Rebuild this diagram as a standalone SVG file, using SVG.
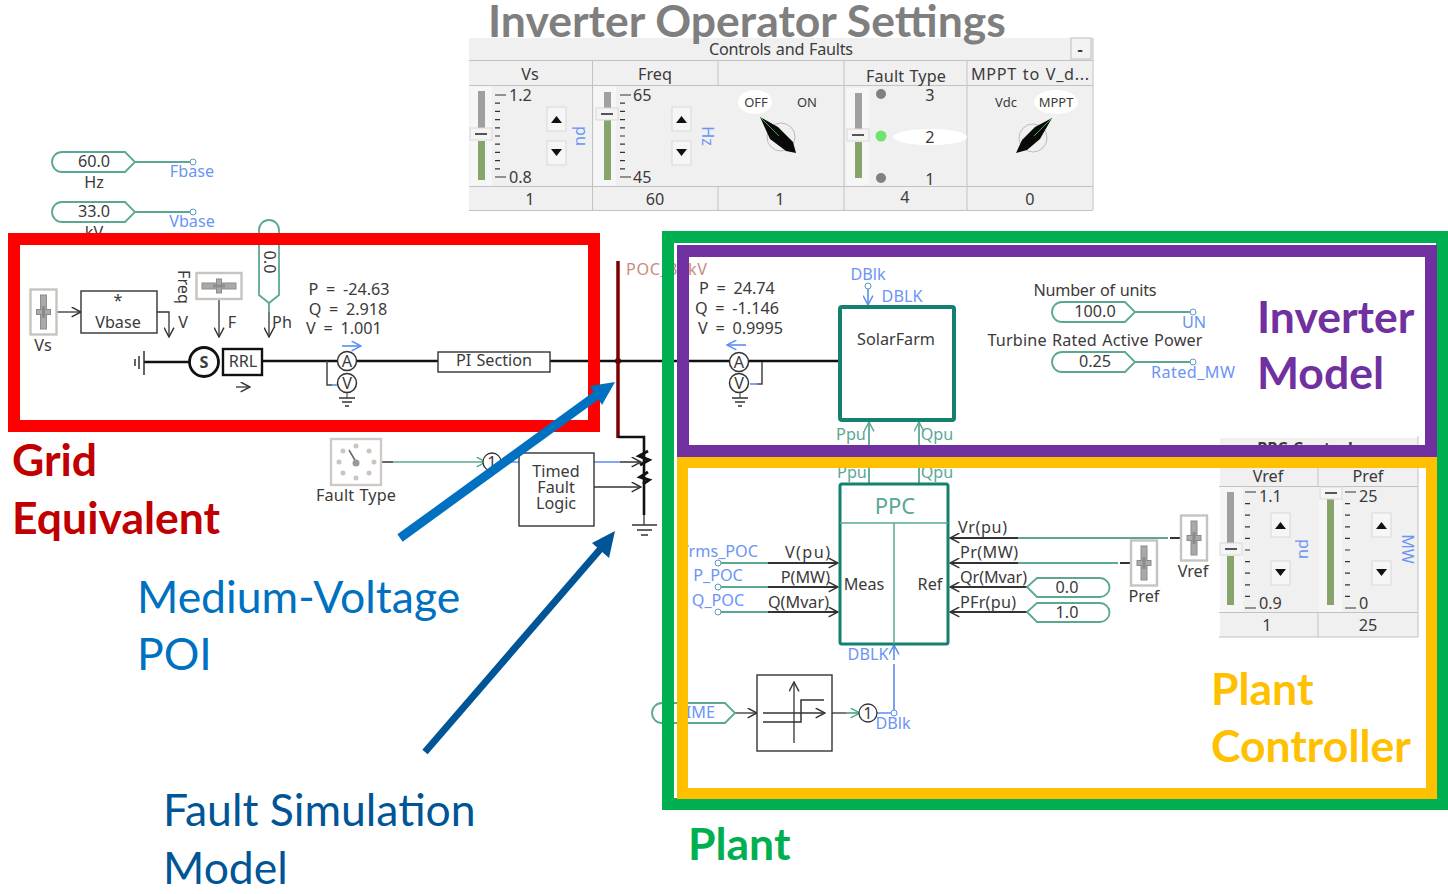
<svg xmlns="http://www.w3.org/2000/svg" xmlns:xlink="http://www.w3.org/1999/xlink" width="1448" height="894" viewBox="0 0 1448 894">
<style>
text{font-family:"Noto Sans","DejaVu Sans",sans-serif;font-size:16.200px;word-spacing:1px;fill:#3c3a3a;text-anchor:middle}
.b{fill:#6b94f5}.t{fill:#5aa893}.l{text-anchor:start}.r{text-anchor:end}
.eq{word-spacing:3.500px}
.big{font-family:Lato,"Open Sans",sans-serif;font-size:44.500px;text-anchor:start;word-spacing:0}
.bold{font-weight:700}
.w{fill:none;stroke:#111;stroke-width:2.600}
.k{fill:none;stroke:#333;stroke-width:1.300}
.g{fill:none;stroke:#5aa893;stroke-width:1.800}
.bl{fill:none;stroke:#5a8df0;stroke-width:1.600}
.pill{fill:#fff;stroke:#5aa893;stroke-width:1.800}
.mbox{fill:#fff;stroke:#333;stroke-width:1.400}
.th{fill:#fff;stroke:#158070;stroke-width:4}
.panel{fill:#f0f0f0}
.slf{fill:#fff;stroke:#c9c3bf;stroke-width:2.400}
.slb{fill:#a9a9a9;stroke:#8c8c8c}
.sm{font-size:13px}
</style>
<defs>
<marker id="ak" viewBox="0 0 10 10" refX="9.500" refY="5" markerWidth="11" markerHeight="11" markerUnits="userSpaceOnUse" orient="auto"><path d="M1 0.500L9.500 5L1 9.500" fill="none" stroke="#333" stroke-width="1.300"/></marker>
<marker id="ag" viewBox="0 0 10 10" refX="9.500" refY="5" markerWidth="11" markerHeight="11" markerUnits="userSpaceOnUse" orient="auto"><path d="M1 0.500L9.500 5L1 9.500" fill="none" stroke="#5aa893" stroke-width="1.300"/></marker>
<marker id="ab" viewBox="0 0 10 10" refX="9.500" refY="5" markerWidth="11" markerHeight="11" markerUnits="userSpaceOnUse" orient="auto"><path d="M1 0.500L9.500 5L1 9.500" fill="none" stroke="#5a8df0" stroke-width="1.300"/></marker>
<path id="ticks" d="M0 0h11m-11 8.200h5m-5 8.200h5m-5 8.200h5m-5 8.200h5m-5 8.200h5m-5 8.200h5m-5 8.200h5m-5 8.200h5m-5 8.200h5m-5 8.200h11" fill="none" stroke="#333" stroke-width="1.200"/>
<path id="ticks2" d="M0 0h11m-11 11.600h5m-5 11.600h5m-5 11.600h5m-5 11.600h5m-5 11.600h5m-5 11.600h5m-5 11.600h5m-5 11.600h5m-5 11.600h5m-5 11.600h11" fill="none" stroke="#333" stroke-width="1.200"/>
<g id="up"><rect x="0" y="0" width="19" height="24" fill="#f6f6f6" stroke="#d8d8d8"/><path d="M4 16L9.500 9L15 16Z" fill="#111"/></g>
<g id="down"><rect x="0" y="0" width="19" height="24" fill="#f6f6f6" stroke="#d8d8d8"/><path d="M4 8L9.500 15L15 8Z" fill="#111"/></g>
<g id="handle"><rect x="-11" y="-6" width="22" height="12" fill="#f4f4f4" stroke="#d8d8d8"/><path d="M-6 0h12" stroke="#555" stroke-width="2"/></g>
<g id="vs"><rect x="-13" y="-22.500" width="26" height="45" class="slf"/><rect x="-3" y="-17" width="6" height="34" class="slb"/><rect x="-7" y="-2.500" width="14" height="5" class="slb"/><rect x="-1.500" y="-6" width="3" height="12" fill="#8c8c8c"/></g>
<path id="gnd" d="M-8 0h16M-5 4h10M-2 8h4" fill="none" stroke="#333" stroke-width="1.400"/>
</defs>

<g id="control-panel">
<rect x="469" y="38" width="624" height="172" class="panel"/>
<text x="781" y="55" textLength="144">Controls and Faults</text>
<rect x="1071" y="38" width="20" height="21" fill="#f3f3f3" stroke="#bdbdbd"/><text x="1080" y="55" class="bold">-</text>
<path d="M469 60.500H1093M469 85.500H1093M469 186.500H1093M469 210.500H1093M592.500 60V210M718 60V85M718 186V210M844 60V210M967 60V210M1093 38V210" fill="none" stroke="#c2c2c2"/>
<text x="530" y="80">Vs</text><text x="655" y="80">Freq</text><text x="906" y="82" textLength="80">Fault Type</text><text x="1030" y="80" textLength="118">MPPT to V_d...</text>
<text x="530" y="205">1</text><text x="655" y="205">60</text><text x="780" y="205">1</text><text x="905" y="203">4</text><text x="1030" y="205">0</text>
<rect x="470" y="86" width="22" height="100" fill="#f6f6f6"/><rect x="478" y="91" width="7" height="40" fill="#a0a0a0"/><rect x="478" y="141" width="7" height="39" fill="#86a56b"/><use href="#handle" x="481" y="134"/>
<use href="#ticks" x="495" y="95"/><text class="l" x="509" y="101">1.2</text><text class="l" x="509" y="183">0.8</text>
<use href="#up" x="547" y="107"/><use href="#down" x="547" y="141"/><text class="b" transform="translate(576,136) rotate(90)">pu</text>
<rect x="594" y="86" width="22" height="100" fill="#f6f6f6"/><rect x="604" y="92" width="7" height="22" fill="#a0a0a0"/><rect x="604" y="120" width="7" height="60" fill="#86a56b"/><use href="#handle" x="607" y="114"/>
<use href="#ticks" x="620" y="95"/><text class="l" x="633" y="101">65</text><text class="l" x="633" y="183">45</text>
<use href="#up" x="672" y="107"/><use href="#down" x="672" y="141"/><text class="b" transform="translate(702,136) rotate(90)">Hz</text>
<ellipse cx="755" cy="102" rx="17" ry="12" fill="#fff"/><text x="756" y="107" class="sm">OFF</text><text x="807" y="107" class="sm">ON</text>
<circle cx="781" cy="137" r="14" fill="none" stroke="#bbb"/><path d="M760 117L778 127L793 142L796 153L786 151L770 139Z" fill="#0a0a0a"/><path d="M760 117L779 136" stroke="#3fae49" fill="none"/>
<rect x="846" y="88" width="23" height="97" fill="#f6f6f6"/><rect x="855" y="93" width="7" height="37" fill="#a0a0a0"/><rect x="855" y="142" width="7" height="36" fill="#86a56b"/><use href="#handle" x="858" y="135"/>
<circle cx="881" cy="94" r="5" fill="#808080"/><circle cx="881" cy="136" r="5.500" fill="#6fe36f"/><circle cx="881" cy="178" r="5" fill="#808080"/>
<ellipse cx="930" cy="137" rx="37" ry="8" fill="#fff"/><text x="930" y="101">3</text><text x="930" y="143">2</text><text x="930" y="185">1</text>
<ellipse cx="1056" cy="102" rx="22" ry="12" fill="#fff"/><text x="1006" y="107" class="sm">Vdc</text><text x="1056" y="107" class="sm">MPPT</text>
<circle cx="1033" cy="138" r="14" fill="none" stroke="#bbb"/><path d="M1052 118L1035 127L1022 140L1016 153L1027 150L1040 139Z" fill="#0a0a0a"/><path d="M1052 118L1034 136" stroke="#3fae49" fill="none"/>
</g>

<g id="ppc-panel">
<rect x="1220" y="438" width="198" height="199" class="panel"/>
<text x="1309" y="454" style="font-weight:700">PPC Controls</text>
<path d="M1418 436V637M1219 486.500H1418M1219 612.500H1418M1219 637H1418M1318 468V486M1318 612V637" fill="none" stroke="#c2c2c2"/>
<text x="1268" y="482">Vref</text><text x="1368" y="482">Pref</text><text x="1267" y="631">1</text><text x="1368" y="631">25</text>
<rect x="1220" y="487" width="23" height="125" fill="#f6f6f6"/><rect x="1227" y="492" width="7" height="51" fill="#a0a0a0"/><rect x="1227" y="556" width="7" height="49" fill="#86a56b"/><use href="#handle" x="1231" y="549"/>
<use href="#ticks2" x="1245" y="492"/><text class="l" x="1259" y="502">1.1</text><text class="l" x="1259" y="609">0.9</text>
<use href="#up" x="1271" y="513"/><use href="#down" x="1271" y="561"/><text class="b" transform="translate(1299,549) rotate(90)">pu</text>
<rect x="1319" y="487" width="23" height="125" fill="#f6f6f6"/><rect x="1327" y="499" width="7" height="106" fill="#86a56b"/><use href="#handle" x="1331" y="493"/>
<use href="#ticks2" x="1345" y="492"/><text class="l" x="1359" y="502">25</text><text class="l" x="1359" y="609">0</text>
<use href="#up" x="1372" y="513"/><use href="#down" x="1372" y="561"/><text class="b" transform="translate(1402,549) rotate(90)">MW</text>
</g>

<g id="connectors">
<path class="g" d="M135 162H193M135 212H193M269 303V312M1135 312H1193M1135 362H1193"/>
<path class="k" d="M269 312V337" marker-end="url(#ak)"/>
<path class="k" d="M57 312H81" marker-end="url(#ak)"/>
<path class="k" d="M157 312H169V337" marker-end="url(#ak)"/>
<path class="k" d="M219 299V337" marker-end="url(#ak)"/>
<path class="k" d="M236 387H250" marker-end="url(#ak)"/>
<path class="w" d="M144 362H190M262 361H338M357 361H438M550 361H839"/>
<path d="M327 361V385H332" fill="none" stroke="#444" stroke-width="1.500"/><path d="M332 385H338" class="bl"/>
<path d="M762 362V384H757" fill="none" stroke="#444" stroke-width="1.500"/><path d="M757 384H750" class="bl"/>
<path class="bl" d="M342 346H361" marker-end="url(#ab)"/>
<path class="bl" d="M746 345H727" marker-end="url(#ab)"/>
<circle cx="618" cy="361" r="3" fill="#111"/>
<path d="M618 261V438" fill="none" stroke="#7a0000" stroke-width="3.500"/>
<path class="w" d="M618 437H644V515"/><path d="M644 515V525" class="k"/>
<path class="bl" d="M505 462H620"/><path class="k" d="M381 462H393M620 462H641" marker-end="url(#ak)"/><path d="M393 462H486" class="g" style="stroke-width:1.300" marker-end="url(#ag)"/>
<path class="k" d="M594 487H641" marker-end="url(#ak)"/>
<path d="M648 451L639 456L649 460L640 465M648 472L640 477L649 480L643 484" fill="none" stroke="#111" stroke-width="3"/>
<path class="bl" d="M868 289V305" marker-end="url(#ab)"/>
<path class="g" d="M869 484V422" marker-end="url(#ag)"/><path class="g" d="M919 484V422" marker-end="url(#ag)"/>
<path class="g" d="M718 563H768M718 587H768M718 612H768"/>
<path class="k" d="M768 563H838" style="stroke-width:1.800" marker-end="url(#ak)"/><path class="k" d="M768 587H838" style="stroke-width:1.800" marker-end="url(#ak)"/><path class="k" d="M768 612H838" style="stroke-width:1.800" marker-end="url(#ak)"/>
<path class="k" d="M1018 538H950" style="stroke-width:1.800" marker-end="url(#ak)"/><path class="k" d="M1018 563H950" style="stroke-width:1.800" marker-end="url(#ak)"/><path class="k" d="M1027 587H950" style="stroke-width:1.800" marker-end="url(#ak)"/><path class="k" d="M1027 612H950" style="stroke-width:1.800" marker-end="url(#ak)"/>
<path class="g" d="M1018 538H1168M1018 563H1118"/><path class="k" d="M1170 538H1181M1120 563H1131" style="stroke-width:1.800"/>
<path class="k" d="M735 713H757" marker-end="url(#ak)"/>
<path class="k" d="M832 713H846"/><path class="g" d="M846 713H860" marker-end="url(#ag)"/>
<path class="bl" d="M877 713H894V664M894 660V645" marker-end="url(#ab)"/>
</g>

<g id="fbase"><path class="pill" d="M62 152H125L135 162L125 172H62A10 10 0 0 1 62 152Z"/><text x="94" y="167">60.0</text><text x="94" y="188">Hz</text><circle cx="193" cy="162" r="3" fill="#fff" stroke="#5a9ac0"/><text class="b" x="192" y="177">Fbase</text></g>
<g id="vbase"><path class="pill" d="M62 202H125L135 212L125 222H62A10 10 0 0 1 62 202Z"/><text x="94" y="217">33.0</text><text x="94" y="238">kV</text><circle cx="193" cy="212" r="3" fill="#fff" stroke="#5a9ac0"/><text class="b" x="192" y="227">Vbase</text></g>
<g id="ph-const"><path class="pill" d="M259 230A10 10 0 0 1 279 230V295L269 303L259 295Z"/><text transform="translate(264,262) rotate(90)">0.0</text><text x="282" y="328">Ph</text></g>
<g id="vs-slider"><use href="#vs" x="43.500" y="312"/><text x="43" y="351">Vs</text></g>
<g id="vbase-mult"><rect x="81" y="291" width="76" height="42" class="mbox"/><text x="118" y="306">*</text><text x="118" y="328">Vbase</text><text x="183" y="328">V</text></g>
<g id="freq-slider"><use href="#vs" transform="translate(219,286) rotate(90)"/><text transform="translate(178,287) rotate(90)">Freq</text><text x="232" y="328">F</text></g>
<g id="ground-left"><path d="M144 351V375M139 356V369M135 359V366" fill="none" stroke="#333" stroke-width="1.500"/></g>
<g id="source"><circle cx="204" cy="362" r="14.500" fill="#fff" stroke="#111" stroke-width="2.800"/><text x="204" y="368" class="bold">S</text></g>
<g id="rrl"><rect x="223" y="349" width="39" height="26" fill="#fff" stroke="#111" stroke-width="2.400"/><text x="243" y="367">RRL</text></g>
<g id="meter-grid"><circle cx="347" cy="361" r="9.500" fill="#fff" stroke="#333" stroke-width="1.500"/><text x="347" y="367">A</text><circle cx="347" cy="383" r="9.500" fill="#fff" stroke="#333" stroke-width="1.500"/><text x="347" y="389">V</text><path d="M347 393V398" stroke="#333"/><use href="#gnd" x="347" y="398"/>
<text class="eq" x="349" y="295">P = -24.63</text><text class="eq" x="348" y="315">Q = 2.918</text><text class="eq" x="344" y="334">V = 1.001</text></g>
<g id="pi-section"><rect x="438" y="352" width="112" height="20" fill="#fff" stroke="#333" stroke-width="1.400"/><text x="494" y="366">PI Section</text></g>
<g id="poc-bus"><text class="l" x="626" y="275" textLength="81" style="fill:#c98a80">POC_33kV</text></g>
<g id="fault-type"><rect x="331" y="439" width="50" height="46" fill="#fff" stroke="#cfcac6" stroke-width="2.400"/><g fill="#cbc5c1"><circle cx="356" cy="446" r="2.500"/><circle cx="343" cy="451" r="2.500"/><circle cx="369" cy="451" r="2.500"/><circle cx="339" cy="462" r="2.500"/><circle cx="374" cy="462" r="2.500"/><circle cx="343" cy="473" r="2.500"/><circle cx="369" cy="473" r="2.500"/><circle cx="356" cy="478" r="2.500"/></g><path d="M349 450L356 462" stroke="#666" stroke-width="1.500"/><circle cx="356" cy="463" r="3.500" fill="#999"/><text x="356" y="501" textLength="80">Fault Type</text></g>
<g id="gain-fault"><circle cx="492" cy="462" r="9" fill="#fff" stroke="#333" stroke-width="1.300"/><text x="492" y="468">1</text></g>
<g id="timed-logic"><rect x="519" y="453" width="75" height="73" fill="#fff" stroke="#333" stroke-width="1.400"/><text x="556" y="477">Timed</text><text x="556" y="493">Fault</text><text x="556" y="509">Logic</text></g>
<g id="ground-fault"><path d="M632 525H657M637 530H652M641 535H648" fill="none" stroke="#333" stroke-width="1.500"/></g>
<g id="meter-plant"><circle cx="739" cy="362" r="9.500" fill="#fff" stroke="#333" stroke-width="1.500"/><text x="739" y="368">A</text><circle cx="739" cy="383" r="9.500" fill="#fff" stroke="#333" stroke-width="1.500"/><text x="739" y="389">V</text><path d="M740 393V398" stroke="#333"/><use href="#gnd" x="740" y="398"/>
<text class="l eq" x="699" y="294">P = 24.74</text><text class="l eq" x="695" y="314">Q = -1.146</text><text class="l eq" x="698" y="334">V = 0.9995</text></g>
<g id="solarfarm"><rect x="840" y="307" width="114" height="113" class="th" rx="2"/><text x="896" y="345">SolarFarm</text><circle cx="868" cy="286" r="3" fill="#fff" stroke="#5a9ac0"/><text class="b" x="868" y="280">DBlk</text><text class="b" x="902" y="302">DBLK</text><text class="t" x="851" y="440">Ppu</text><text class="t" x="937" y="440">Qpu</text></g>
<g id="units"><text x="1095" y="296" textLength="123">Number of units</text><path class="pill" d="M1062 302H1125L1135 312L1125 322H1062A10 10 0 0 1 1062 302Z"/><text x="1095" y="317">100.0</text><circle cx="1193" cy="312" r="3" fill="#fff" stroke="#5a9ac0"/><text class="b" x="1194" y="328">UN</text></g>
<g id="rated"><text x="1095" y="346" textLength="215">Turbine Rated Active Power</text><path class="pill" d="M1062 352H1125L1135 362L1125 372H1062A10 10 0 0 1 1062 352Z"/><text x="1095" y="367">0.25</text><circle cx="1193" cy="362" r="3" fill="#fff" stroke="#5a9ac0"/><text class="b" x="1193" y="378" textLength="84">Rated_MW</text></g>
<g id="ppc"><rect x="840" y="484" width="108" height="160" fill="#fff" stroke="#158070" stroke-width="3" rx="2"/><path d="M840 523H948M894 523V644" fill="none" stroke="#5aa893" stroke-width="1.500"/><text x="895" y="514" style="font-size:22px;fill:#5aa893">PPC</text><text x="864" y="590">Meas</text><text x="930" y="590">Ref</text>
<text class="t" x="852" y="478">Ppu</text><text class="t" x="937" y="478">Qpu</text>
<text class="r" x="830" y="558" textLength="45">V(pu)</text><text class="r" x="830" y="583">P(MW)</text><text class="r" x="829" y="608">Q(Mvar)</text>
<text class="l" x="958" y="533" textLength="49">Vr(pu)</text><text class="l" x="960" y="558" textLength="58">Pr(MW)</text><text class="l" x="960" y="583" textLength="67">Qr(Mvar)</text><text class="l" x="960" y="608" textLength="56">PFr(pu)</text><text class="b" x="868" y="660">DBLK</text></g>
<g id="meas-inputs"><circle cx="718" cy="563" r="3" fill="#fff" stroke="#5a9ac0"/><circle cx="718" cy="587" r="3" fill="#fff" stroke="#5a9ac0"/><circle cx="718" cy="612" r="3" fill="#fff" stroke="#5a9ac0"/><text class="b r" x="758" y="557">Vrms_POC</text><text class="b" x="718" y="581">P_POC</text><text class="b" x="718" y="606">Q_POC</text></g>
<g id="vref-slider"><use href="#vs" x="1194" y="538"/><text x="1193" y="577">Vref</text></g>
<g id="pref-slider"><use href="#vs" x="1144" y="563"/><text x="1144" y="602">Pref</text></g>
<g id="qr-const"><path class="pill" d="M1100 578H1037L1027 587L1037 597H1100A9.500 9.500 0 0 0 1100 578Z"/><text x="1067" y="593">0.0</text></g>
<g id="pf-const"><path class="pill" d="M1100 603H1037L1027 612L1037 622H1100A9.500 9.500 0 0 0 1100 603Z"/><text x="1067" y="618">1.0</text></g>
<g id="time-input"><path class="pill" d="M662 703H725L735 713L725 723H662A10 10 0 0 1 662 703Z"/><text class="b r" x="715" y="718">TIME</text></g>
<g id="hysteresis"><rect x="757" y="675" width="75" height="76" fill="#fff" stroke="#333" stroke-width="1.400"/><path class="k" d="M794 743V682" marker-end="url(#ak)"/><path class="k" d="M763 713H825" marker-end="url(#ak)"/><path class="k" d="M763 722H801V700H824" style="stroke-width:1.500"/></g>
<g id="gain-dblk"><circle cx="868" cy="713" r="9" fill="#fff" stroke="#333" stroke-width="1.300"/><text x="868" y="719">1</text><circle cx="894" cy="713" r="3" fill="#fff" stroke="#5a8df0"/><text class="b" x="893" y="729">DBlk</text></g>

<g id="frames">
<rect x="14" y="239" width="580" height="187" fill="none" stroke="#ff0000" stroke-width="12"/>
<rect x="668" y="237" width="774" height="567" fill="none" stroke="#00b050" stroke-width="12"/>
<rect x="682.500" y="462.500" width="749" height="331" fill="none" stroke="#ffc000" stroke-width="11"/>
<rect x="683" y="251" width="748" height="200" fill="none" stroke="#7030a0" stroke-width="12"/>
</g>

<g id="annotations">
<path d="M400 538L597 395" stroke="#0070c0" stroke-width="9" fill="none"/><path d="M615 382L590 386L602 405Z" fill="#0070c0"/>
<path d="M425 752L603 546" stroke="#005596" stroke-width="7" fill="none"/><path d="M615 531L592 543L609 558Z" fill="#005596"/>
<text class="big bold" x="488" y="37" style="fill:#7f7f7f">Inverter Operator Settings</text>
<text class="big bold" x="12" y="476" style="fill:#c00000">Grid</text><text class="big bold" x="12" y="534" style="fill:#c00000">Equivalent</text>
<text class="big" x="137" y="613" style="fill:#0070c0">Medium-Voltage</text><text class="big" x="137" y="670" style="fill:#0070c0">POI</text>
<text class="big" x="163" y="826" style="fill:#005596">Fault Simulation</text><text class="big" x="163" y="884" style="fill:#005596">Model</text>
<text class="big bold" x="688" y="860" style="fill:#00b050">Plant</text>
<text class="big bold" x="1257" y="333" style="fill:#7030a0">Inverter</text><text class="big bold" x="1257" y="389" style="fill:#7030a0">Model</text>
<text class="big bold" x="1211" y="705" style="fill:#ffc000">Plant</text><text class="big bold" x="1211" y="762" style="fill:#ffc000">Controller</text>
</g>
</svg>
